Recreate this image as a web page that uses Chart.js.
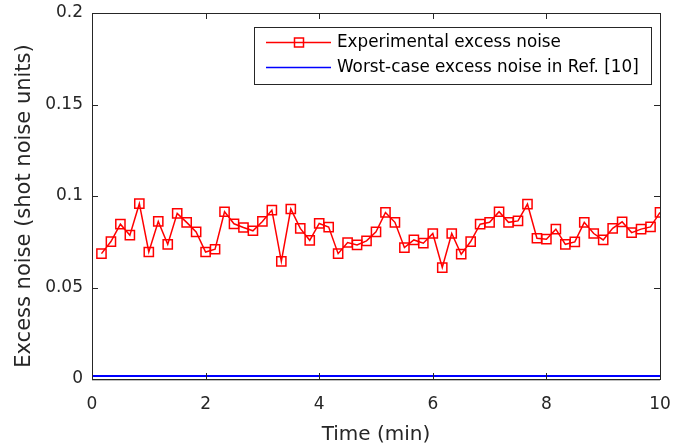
<!DOCTYPE html>
<html>
<head>
<meta charset="utf-8">
<script src="https://cdn.jsdelivr.net/npm/chart.js@4"></script>
<style>
    html, body { margin: 0; padding: 0; background: #fff; }
    #wrap { width: 679px; height: 448px; }
</style>
</head>
<body>
<div id="wrap"><canvas id="noise-chart" width="679" height="448"></canvas></div>
<script>
// Data
const timeMin = [];
for (let i = 1; i <= 60; i++) timeMin.push(i / 6); // one sample every 10 s

const excessNoise = [
    0.0685, 0.0751, 0.0846, 0.0786, 0.0958, 0.0694, 0.0861, 0.0736, 0.0905, 0.0856,
    0.0804, 0.0694, 0.0709, 0.0914, 0.0848, 0.0828, 0.0810, 0.0861, 0.0923, 0.0643,
    0.0929, 0.0823, 0.0758, 0.0850, 0.0830, 0.0685, 0.0746, 0.0733, 0.0755, 0.0804,
    0.0910, 0.0856, 0.0718, 0.0760, 0.0742, 0.0795, 0.0609, 0.0795, 0.0682, 0.0751,
    0.0846, 0.0856, 0.0914, 0.0856, 0.0864, 0.0956, 0.0769, 0.0764, 0.0819, 0.0736,
    0.0749, 0.0856, 0.0795, 0.0760, 0.0823, 0.0859, 0.0800, 0.0819, 0.0831, 0.0910
];

const worstCaseX = [0, 10];
const worstCaseY = [0.0017, 0.0017];

const xTicks = [0, 2, 4, 6, 8, 10];
const yTicks = [0, 0.05, 0.1, 0.15, 0.2];

const seriesLabels = ['Experimental excess noise', 'Worst-case excess noise in Ref. [10]'];

const axisColor = '#262626';
const fontFamily = '"DejaVu Sans", Arial, sans-serif';

// Inward ticks on all four sides plus the box, MATLAB style
const boxTicksPlugin = {
    id: 'boxTicks',
    afterDraw(chart) {
        const ctx = chart.ctx;
        const area = chart.chartArea;
        const xs = chart.scales.x;
        const ys = chart.scales.y;
        ctx.save();
        ctx.strokeStyle = axisColor;
        ctx.lineWidth = 1;
        ctx.beginPath();
        xTicks.forEach(v => {
            const px = Math.round(xs.getPixelForValue(v)) + 0.5;
            ctx.moveTo(px, area.bottom);
            ctx.lineTo(px, area.bottom - 6);
            ctx.moveTo(px, area.top);
            ctx.lineTo(px, area.top + 6);
        });
        yTicks.forEach(v => {
            const py = Math.round(ys.getPixelForValue(v)) + 0.5;
            ctx.moveTo(area.left, py);
            ctx.lineTo(area.left + 6, py);
            ctx.moveTo(area.right, py);
            ctx.lineTo(area.right - 6, py);
        });
        ctx.stroke();
        ctx.strokeRect(Math.round(area.left) + 0.5, Math.round(area.top) + 0.5,
            Math.round(area.right - area.left), Math.round(area.bottom - area.top));
        // bottom axis looks a little heavier in the original
        ctx.beginPath();
        ctx.moveTo(area.left, Math.round(area.bottom) + 1);
        ctx.lineTo(area.right, Math.round(area.bottom) + 1);
        ctx.strokeStyle = 'rgba(38,38,38,0.6)';
        ctx.stroke();
        ctx.restore();
    }
};

// Legend box inside the top right of the plot
const insideLegendPlugin = {
    id: 'insideLegend',
    afterDraw(chart) {
        const ctx = chart.ctx;
        const left = 254, top = 27, w = 397, h = 57;
        ctx.save();
        ctx.fillStyle = '#fff';
        ctx.fillRect(left, top, w, h);
        ctx.strokeStyle = axisColor;
        ctx.lineWidth = 1;
        ctx.strokeRect(left + 0.5, top + 0.5, w, h);

        const rows = [42, 67];
        chart.data.datasets.forEach((ds, i) => {
            const y = rows[i] + 0.5;
            ctx.strokeStyle = ds.borderColor;
            ctx.lineWidth = 1.5;
            ctx.beginPath();
            ctx.moveTo(266, y);
            ctx.lineTo(331, y);
            ctx.stroke();
            if (i === 0) {
                ctx.strokeRect(294.5, y - 4.5, 9, 9);
            }
            ctx.fillStyle = '#000';
            ctx.font = '16.8px ' + fontFamily;
            ctx.textBaseline = 'middle';
            ctx.fillText(ds.label, 337, rows[i] + 1);
        });
        ctx.restore();
    }
};

const ctx = document.getElementById('noise-chart').getContext('2d');
new Chart(ctx, {
    type: 'scatter',
    data: {
        datasets: [{
            label: seriesLabels[0],
            data: timeMin.map((t, i) => ({ x: t, y: excessNoise[i] })),
            showLine: true,
            borderColor: '#ff0000',
            borderWidth: 1.5,
            pointStyle: 'rect',
            pointRadius: 6.5,
            pointBorderWidth: 1.5,
            pointBackgroundColor: 'rgba(0,0,0,0)',
            pointBorderColor: '#ff0000',
            tension: 0
        }, {
            label: seriesLabels[1],
            data: worstCaseX.map((t, i) => ({ x: t, y: worstCaseY[i] })),
            showLine: true,
            borderColor: '#0000ff',
            borderWidth: 2,
            pointRadius: 0
        }]
    },
    options: {
        responsive: false,
        animation: false,
        events: [],
        layout: { padding: { top: 13, right: 19, left: 0, bottom: 0 } },
        plugins: {
            legend: { display: false },
            tooltip: { enabled: false }
        },
        scales: {
            x: {
                type: 'linear',
                min: 0,
                max: 10,
                afterBuildTicks: axis => { axis.ticks = xTicks.map(v => ({ value: v })); },
                afterFit: axis => {
                    axis.height = 69;
                    axis.paddingLeft = 0;
                    axis.paddingRight = 0;
                },
                grid: { display: false, drawTicks: false },
                border: { display: false },
                ticks: {
                    color: axisColor,
                    padding: 15,
                    font: { family: fontFamily, size: 17 }
                },
                title: {
                    display: true,
                    text: 'Time (min)',
                    color: axisColor,
                    padding: { top: 4, bottom: 1 },
                    font: { family: fontFamily, size: 20 }
                }
            },
            y: {
                min: 0,
                max: 0.2,
                afterBuildTicks: axis => { axis.ticks = yTicks.map(v => ({ value: v })); },
                afterFit: axis => {
                    axis.width = 92;
                    axis.paddingTop = 0;
                    axis.paddingBottom = 0;
                },
                grid: { display: false, drawTicks: false },
                border: { display: false },
                ticks: {
                    color: axisColor,
                    padding: 9,
                    font: { family: fontFamily, size: 17 },
                    callback: v => String(parseFloat(v.toFixed(2)))
                },
                title: {
                    display: true,
                    // trailing spaces nudge the rotated title a bit lower, as in the original
                    text: 'Excess noise (shot noise units)   ',
                    color: axisColor,
                    padding: { top: 12, bottom: 0 },
                    font: { family: fontFamily, size: 21 }
                }
            }
        }
    },
    plugins: [boxTicksPlugin, insideLegendPlugin]
});
</script>
</body>
</html>
